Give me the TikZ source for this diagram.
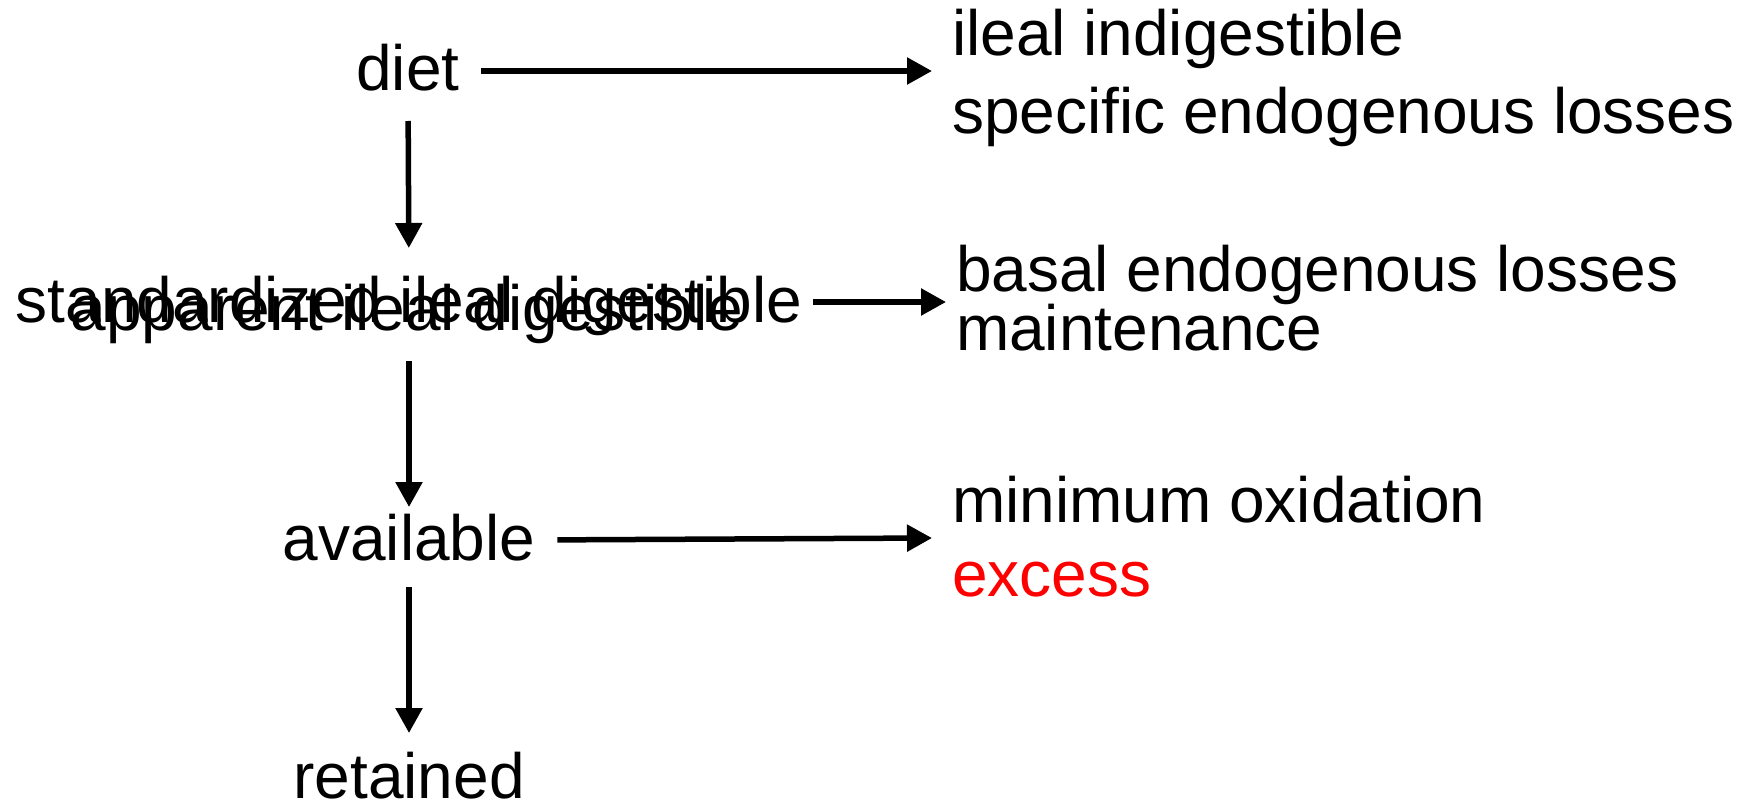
\documentclass[tikz,border=0pt]{standalone}
\usepackage{fontspec}
\setmainfont{Liberation Sans}
\usetikzlibrary{arrows.meta}
\tikzset{
  lbl/.style={inner sep=0pt, outer sep=0pt, font=\fontsize{64}{76}\selectfont},
  mainlbl/.style={lbl, anchor=base, text height=40pt, text depth=0pt},
  sidelbl/.style={lbl, anchor=base west},
  arr/.style={line width=5.5pt, -{Triangle[width=26pt,length=25pt]}}
}
\begin{document}
\begin{tikzpicture}[x=1pt,y=-1pt]
\useasboundingbox (0,0) rectangle (1754,808);
% main column
\node[mainlbl] (diet) at (408,91) {diet};
\node[mainlbl] (std) at (409,322) {standardized ileal digestible};
\node[mainlbl] (app) at (407,330) {apparent ileal digestible};
\node[mainlbl] (avail) at (409,560) {available};
\node[mainlbl] (ret) at (409,798) {retained};
% side texts
\node[sidelbl] (ileal) at (952,56) {ileal indigestible};
\node[sidelbl] (spec) at (952,133) {specific endogenous losses};
\node[sidelbl] (basal) at (956,291) {basal endogenous losses};
\node[sidelbl] (maint) at (956,350) {maintenance};
\node[sidelbl] (minox) at (952,522) {minimum oxidation};
\node[sidelbl, text=red] (excess) at (952,596) {excess};
% arrow ends
\coordinate (a1) at (932,71);
\coordinate (a2) at (946,302);
\coordinate (a3) at (932,538);
% connectors
\draw[arr, shorten <=21pt] (diet.east) -- (a1);
\draw[arr, shorten <=11pt] (std.east) -- (a2);
\draw[arr, shorten <=22pt] (avail.east) -- (a3);
\draw[arr, shorten <=30pt, shorten >=34pt] (diet.south) -- (std.north);
\draw[arr, shorten <=39pt, shorten >=13pt] (std.south) -- (avail.north);
\draw[arr, shorten <=27pt, shorten >=25pt] (avail.south) -- (ret.north);
\end{tikzpicture}
\end{document}
